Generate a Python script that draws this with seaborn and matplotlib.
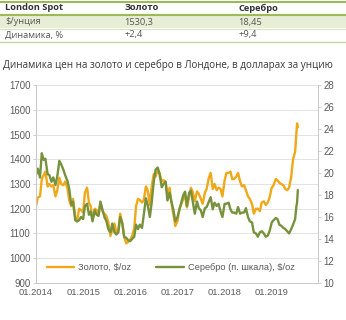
import pandas as pd
import numpy as np
import matplotlib
matplotlib.use('Agg')
import matplotlib.pyplot as plt
import matplotlib.dates as mdates
import seaborn as sns

# table at the top
tbl_head = ['London Spot', 'Золото', 'Серебро']
tbl_price = ['$/унция', '1530,3', '18,45']
tbl_change = ['Динамика, %', '+2,4', '+9,4']

title = 'Динамика цен на золото и серебро в Лондоне, в долларах за унцию'
gold_label = 'Золото, $/oz'
silver_label = 'Серебро (п. шкала), $/oz'

# semi-monthly readings, 2014-2018
years = [2014, 2015, 2016, 2017, 2018]
dates = [f'{y}-{m:02d}-{d:02d}' for y in years for m in range(1, 13) for d in (1, 15)]
dates_2019 = ['2019-01-01', '2019-01-15', '2019-02-01', '2019-02-15', '2019-03-01',
              '2019-03-15', '2019-04-01', '2019-04-15', '2019-05-01', '2019-05-15',
              '2019-06-01', '2019-06-15', '2019-07-01', '2019-07-10', '2019-07-16',
              '2019-07-22']

gold = [1210, 1245, 1250, 1320, 1335, 1350, 1290, 1300, 1290, 1295, 1250, 1275,
        1325, 1300, 1295, 1310, 1285, 1235, 1210, 1240, 1165, 1150, 1200, 1195,
        1185, 1265, 1285, 1225, 1210, 1155, 1200, 1195, 1180, 1225, 1190, 1180,
        1170, 1145, 1090, 1115, 1140, 1105, 1115, 1180, 1140, 1085, 1060, 1065,
        1075, 1090, 1120, 1210, 1240, 1235, 1225, 1235, 1290, 1275, 1215, 1290,
        1340, 1330, 1355, 1345, 1310, 1315, 1310, 1255, 1285, 1225, 1175, 1130,
        1150, 1200, 1220, 1240, 1250, 1205, 1250, 1285, 1265, 1230, 1270, 1260,
        1240, 1220, 1265, 1280, 1325, 1345, 1280, 1300, 1275, 1285, 1280, 1250,
        1315, 1345, 1345, 1350, 1320, 1320, 1330, 1345, 1310, 1290, 1295, 1275,
        1250, 1240, 1220, 1180, 1200, 1200, 1190, 1225, 1230, 1215, 1225, 1245]
gold_2019 = [1285, 1295, 1320, 1315, 1305, 1300, 1295, 1280, 1275, 1285,
             1330, 1400, 1430, 1500, 1545, 1530]

silver = [19.8, 20.4, 19.6, 21.8, 21.2, 21.3, 19.9, 19.8, 19.2, 19.6, 18.9, 19.7,
          21.1, 20.8, 20.3, 19.8, 19.3, 18.6, 17.1, 17.4, 15.7, 15.6, 15.7, 16.0,
          15.8, 17.0, 17.2, 16.2, 16.5, 15.6, 16.6, 16.2, 16.1, 17.4, 16.6, 16.0,
          15.6, 14.9, 14.6, 15.4, 14.6, 14.4, 14.6, 16.0, 15.4, 14.2, 14.1, 13.9,
          13.8, 14.0, 14.2, 15.3, 14.9, 15.3, 15.0, 16.2, 17.7, 17.1, 16.0, 17.3,
          19.2, 20.3, 20.5, 19.9, 18.7, 19.0, 19.2, 17.5, 18.2, 17.4, 16.6, 15.6,
          16.0, 16.6, 17.4, 18.0, 18.3, 17.0, 18.2, 18.4, 17.3, 16.3, 17.4, 16.8,
          16.6, 16.0, 16.8, 16.9, 17.4, 17.8, 16.7, 17.3, 17.0, 17.2, 16.5, 16.0,
          17.2, 17.2, 17.3, 16.7, 16.4, 16.4, 16.3, 16.9, 16.3, 16.4, 16.4, 16.8,
          16.0, 15.6, 15.5, 14.6, 14.5, 14.2, 14.6, 14.7, 14.5, 14.2, 14.3, 14.7]
silver_2019 = [15.5, 15.7, 15.9, 15.8, 15.3, 15.2, 15.0, 14.9, 14.7, 14.5,
               14.9, 15.3, 15.8, 16.9, 17.3, 18.45]

df = pd.DataFrame({'date': pd.to_datetime(dates + dates_2019),
                   'gold': gold + gold_2019,
                   'silver': silver + silver_2019})

GOLD = '#f0a818'
SILVER = '#76923c'
GREY = '#595959'

sns.set_style('white')
plt.rcParams['font.family'] = ['Liberation Sans', 'DejaVu Sans']

fig = plt.figure(figsize=(3.46, 3.2), dpi=100)
ax = fig.add_axes([0.104, 0.116, 0.815, 0.618])
ax2 = ax.twinx()

sns.lineplot(data=df, x='date', y='gold', ax=ax, color=GOLD, lw=1.7, label=gold_label, legend=False)
sns.lineplot(data=df, x='date', y='silver', ax=ax2, color=SILVER, lw=1.7, label=silver_label, legend=False)

ax.set_ylim(900, 1700)
ax.set_yticks(np.arange(900, 1701, 100))
ax2.set_ylim(10, 28)
ax2.set_yticks(np.arange(10, 29, 2))
ax.set_xlim(pd.Timestamp('2014-01-01'), pd.Timestamp('2019-12-25'))
ax.xaxis.set_major_locator(mdates.YearLocator())
ax.xaxis.set_major_formatter(mdates.DateFormatter('%m.%Y'))

ax.grid(axis='y', color='#e3e3e3', lw=0.7)
ax.set_axisbelow(True)
for a in (ax, ax2):
    a.set_xlabel('')
    a.set_ylabel('')
    for s in a.spines.values():
        s.set_color('#c8c8c8')
        s.set_linewidth(0.7)
    a.spines['top'].set_visible(False)
    a.tick_params(labelsize=6.9, colors=GREY, length=2.5, width=0.6, pad=1.5)
    a.tick_params(color='#c8c8c8')
ax.tick_params(axis='x', labelsize=6.7)

h1, l1 = ax.get_legend_handles_labels()
h2, l2 = ax2.get_legend_handles_labels()
leg = ax2.legend(h1 + h2, l1 + l2, loc='lower center', bbox_to_anchor=(0.478, 0.012), ncol=2,
                 frameon=False, fontsize=6.7, handlelength=3.0, handletextpad=0.4, columnspacing=2.7)
for t in leg.get_texts():
    t.set_color(GREY)

# title
fig.text(0.01, 0.797, title, fontsize=7.1, color='#3a3a3a', family=['Open Sans', 'DejaVu Sans'], va='center')

# table
GREEN = '#9bbb59'
LIGHT = '#e6eed5'
fig.add_artist(plt.Rectangle((0, 1 - 28 / 320), 1, 13 / 320, transform=fig.transFigure, color=LIGHT, lw=0))
for y, c, w in [(1.5, GREEN, 1.5), (15, GREEN, 1.5), (28.5, '#d6e3bc', 0.8), (42, '#c3d69b', 1.0)]:
    fig.add_artist(plt.Line2D([0, 1], [1 - y / 320, 1 - y / 320], transform=fig.transFigure, color=c, lw=w))
cols_x = [0.015, 0.36, 0.688]
for row, y, bold in [(tbl_head, 8, True), (tbl_price, 22, False), (tbl_change, 35, False)]:
    for x, txt in zip(cols_x, row):
        fig.text(x, 1 - y / 320, txt, fontsize=6.7, va='center', color='#333333' if bold else '#555555',
                 weight='bold' if bold else 'normal', family=['Open Sans', 'DejaVu Sans'])

fig.savefig('out.png', dpi=100)
